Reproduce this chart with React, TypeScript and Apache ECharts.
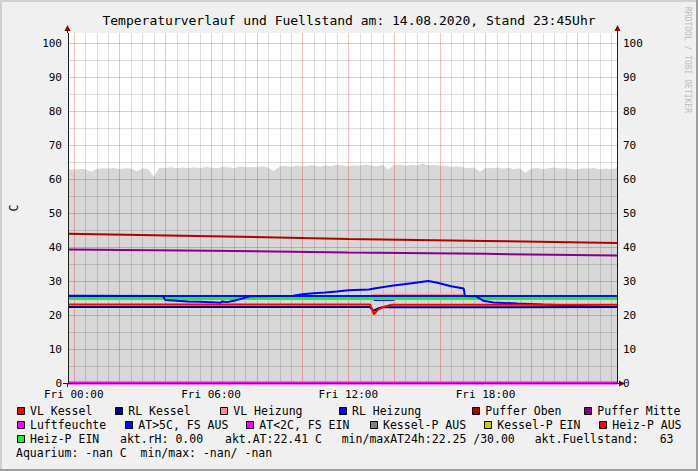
import React, { useEffect, useRef } from 'react';
import * as echarts from 'echarts';

// ---------- data ----------
const TITLE = 'Temperaturverlauf und Fuellstand am: 14.08.2020, Stand 23:45Uhr';
const Y_AXIS_NAME = 'C';
const DAY_NAME = 'Fri';
const X_MIN = -0.25;
const X_MAX = 23.75;
const Y_MIN = 0;
const Y_MAX = 103;
const Y_LABELS = [0, 10, 20, 30, 40, 50, 60, 70, 80, 90, 100];
const Y_MINOR = [5, 15, 25, 35, 45, 55, 65, 75, 85, 95];
const X_LABEL_HOURS = [0, 6, 12, 18];
const X_MAJOR_HOURS = [0, 2, 4, 6, 8, 10, 12, 14, 16, 18, 20, 22];
const X_MINOR_HOURS = [
  0.5, 1, 1.5, 2.5, 3, 3.5, 4.5, 5, 5.5, 6.5, 7, 7.5, 8.5, 9, 9.5, 10.5, 11, 11.5,
  12.5, 13, 13.5, 14.5, 15, 15.5, 16.5, 17, 17.5, 18.5, 19, 19.5, 20.5, 21, 21.5,
  22.5, 23, 23.5,
];

// Fuellstand, one value every 15 minutes starting at -0.25 h
const FUELL_START = -0.25;
const FUELL_STEP = 0.25;
const FUELLSTAND = [
  62.9, 62.8, 63.0, 62.9, 62.2, 63.0, 63.2, 63.1,
  63.3, 63.0, 63.2, 63.1, 62.3, 63.2, 63.0, 60.8,
  63.4, 63.3, 63.5, 63.2, 63.4, 63.3, 63.5, 63.2,
  63.6, 63.4, 63.3, 63.6, 63.5, 63.2, 63.7, 63.5,
  63.6, 63.5, 63.8, 63.4, 62.4, 63.7, 63.9, 63.6,
  64.0, 63.7, 63.9, 64.1, 63.6, 64.0, 63.8, 64.2,
  64.0, 63.8, 64.1, 63.9, 64.3, 64.0, 63.7, 64.2,
  62.8, 64.1, 64.3, 63.9, 64.2, 64.0, 64.6, 64.1,
  64.2, 63.9, 64.0, 63.6, 63.8, 63.5, 63.3, 63.4,
  62.2, 63.3, 63.2, 63.4, 63.1, 63.3, 63.0, 63.2,
  61.9, 63.1, 63.3, 63.0, 63.2, 63.4, 63.1, 63.2,
  63.0, 62.8, 63.2, 63.1, 63.3, 62.9, 63.1, 63.0,
  63.2,
];

// [hour, value]
const PUFFER_OBEN = [[-0.25, 43.9], [6, 43.2], [12, 42.4], [18, 41.8], [23.75, 41.2]];
const PUFFER_MITTE = [[-0.25, 39.3], [6, 38.9], [12, 38.4], [18, 38.0], [23.75, 37.5]];
const VL_HEIZUNG = [[-0.25, 25.6], [13.0, 25.6], [13.1, 25.95], [17.1, 25.95], [17.2, 25.6], [23.75, 25.6]];
const AT_FS_AUS = [[-0.25, 25.6], [23.75, 25.6]];
const RL_HEIZUNG = [[-0.25, 25.6], [13.05, 25.6], [13.15, 24.4], [14.0, 24.5], [14.1, 25.6], [23.75, 25.6]];
const HEIZ_P_EIN = [[-0.25, 24.85], [23.75, 24.85]];
const AUSSENTEMP = [
  [-0.25, 25.7], [3.9, 25.6], [4.0, 24.4], [4.5, 24.2], [5.0, 24.0], [5.5, 23.9], [6.0, 23.8],
  [6.4, 23.6], [6.5, 24.0], [6.7, 23.8], [7.0, 24.2], [7.4, 24.9], [7.7, 25.5], [9.6, 25.7],
  [10.0, 26.1], [10.5, 26.4], [11.0, 26.6], [11.5, 26.9], [12.0, 27.3], [12.9, 27.5], [13.2, 27.9],
  [13.9, 28.6], [14.7, 29.3], [15.5, 30.0], [15.9, 29.5], [16.5, 28.5], [17.05, 27.8], [17.1, 25.6],
  [17.6, 25.5], [17.9, 24.2], [18.35, 23.7], [19.4, 23.4], [20.5, 23.1], [21.4, 22.9], [22.5, 22.6],
  [23.75, 22.4],
];
const VL_KESSEL = [
  [-0.25, 23.1], [12.95, 23.1], [13.05, 21.6], [13.12, 20.2], [13.3, 21.6], [13.6, 22.5], [13.9, 23.0],
  [23.75, 23.0],
];
const RL_KESSEL = [
  [-0.25, 22.35], [12.95, 22.35], [13.1, 21.2], [13.3, 21.9], [13.5, 22.3], [23.75, 22.35],
];
const LUFTFEUCHTE = [[-0.25, 0], [23.75, 0]];

const LEGEND_ROW1 = ['VL Kessel', 'RL Kessel', 'VL Heizung', 'RL Heizung', 'Puffer Oben', 'Puffer Mitte'];
const LEGEND_ROW2 = ['Luftfeuchte', 'AT>5C, FS AUS', 'AT<2C, FS EIN', 'Kessel-P AUS', 'Kessel-P EIN', 'Heiz-P AUS'];
const LEGEND_ROW3 = ['Heiz-P EIN'];
const AKT_RH = '0.00';
const AKT_AT = '22.41';
const MIN_AT = '22.25';
const MAX_AT = '30.00';
const AKT_FUELL = '63';
const AQUARIUM = '-nan';
const AQUARIUM_MIN = '-nan';
const AQUARIUM_MAX = '-nan';

// ---------- styles ----------
const MONO = '"DejaVu Sans Mono", monospace';
const COLORS: Record<string, string> = {
  'VL Kessel': '#ff0000',
  'RL Kessel': '#000080',
  'VL Heizung': '#ff8c94',
  'RL Heizung': '#0000ff',
  'Puffer Oben': '#b00000',
  'Puffer Mitte': '#880088',
  'Luftfeuchte': '#ff00ff',
  'AT>5C, FS AUS': '#0010ff',
  'AT<2C, FS EIN': '#ff00ff',
  'Kessel-P AUS': '#808080',
  'Kessel-P EIN': '#cccc00',
  'Heiz-P AUS': '#ff0000',
  'Heiz-P EIN': '#22ee22',
  'Aussentemperatur': '#0000ff',
};
const ROW1_TEXT_X = [30, 128.3, 233.3, 352, 485.3, 597.3];
const ROW2_TEXT_X = [30, 138.3, 259.3, 383, 497.3, 612.3];
const ROW_Y = [411, 425, 439, 453];

const GRID_MINOR = 'rgba(128,128,128,0.28)';
const GRID_MAJOR = 'rgba(255,0,0,0.26)';
const AXIS_COLOR = '#202020';
const ARROW_COLOR = '#7f0000';

function lineSeries(name: string, data: number[][], color: string, width: number, z = 3, clip = true) {
  return {
    name,
    type: 'line',
    data,
    xAxisIndex: 0,
    yAxisIndex: 0,
    symbol: 'none',
    silent: true,
    clip,
    z,
    lineStyle: { color, width },
  };
}

// grid / axis lines through the axes' scales, snapped to whole pixels
function ruleSeries(name: string, values: number[], vertical: boolean, color: string, z: number) {
  return {
    name,
    type: 'custom',
    xAxisIndex: 0,
    yAxisIndex: 0,
    silent: true,
    clip: false,
    z,
    data: values.map((v) => (vertical ? [v, Y_MIN] : [X_MIN, v])),
    renderItem: (params: any, api: any) => {
      if (vertical) {
        const v = api.value(0);
        const a = api.coord([v, Y_MIN]);
        const b = api.coord([v, Y_MAX]);
        const x = Math.round(a[0]) + 0.5;
        return {
          type: 'line',
          shape: { x1: x, y1: Math.round(b[1]), x2: x, y2: Math.round(a[1]) },
          style: { stroke: color, lineWidth: 1 },
        };
      }
      const v = api.value(1);
      const a = api.coord([X_MIN, v]);
      const b = api.coord([X_MAX, v]);
      const y = Math.round(a[1]) + 0.5;
      return {
        type: 'line',
        shape: { x1: Math.round(a[0]), y1: y, x2: Math.round(b[0]), y2: y },
        style: { stroke: color, lineWidth: 1 },
      };
    },
  };
}

function legendItems() {
  const els: any[] = [];
  const add = (names: string[], xs: number[], y: number) => {
    names.forEach((n, i) => {
      const tx = xs[i];
      els.push({
        type: 'rect',
        shape: { x: Math.round(tx - 13.5) + 0.5, y: y - 3.5, width: 7, height: 7 },
        style: { fill: COLORS[n], stroke: '#000', lineWidth: 1 },
      });
      els.push({
        type: 'text',
        x: tx,
        y,
        style: { text: n, font: `11.5px ${MONO}`, fill: '#000', align: 'left', verticalAlign: 'middle' },
      });
    });
  };
  add(LEGEND_ROW1, ROW1_TEXT_X, ROW_Y[0]);
  add(LEGEND_ROW2, ROW2_TEXT_X, ROW_Y[1]);
  add(LEGEND_ROW3, [30], ROW_Y[2]);
  const txt = (text: string, x: number, y: number) => ({
    type: 'text',
    x,
    y,
    style: { text, font: `11.5px ${MONO}`, fill: '#000', align: 'left', verticalAlign: 'middle' },
  });
  els.push(txt(`akt.rH: ${AKT_RH}`, 120, ROW_Y[2]));
  els.push(txt(`akt.AT:${AKT_AT} C`, 225, ROW_Y[2]));
  els.push(txt(`min/maxAT24h:${MIN_AT} /${MAX_AT}`, 341.7, ROW_Y[2]));
  els.push(txt('akt.Fuellstand:', 534.7, ROW_Y[2]));
  els.push(txt(AKT_FUELL, 659.7, ROW_Y[2]));
  els.push(txt(`Aquarium: ${AQUARIUM} C`, 16, ROW_Y[3]));
  els.push(txt(`min/max: ${AQUARIUM_MIN}/ ${AQUARIUM_MAX}`, 140.6, ROW_Y[3]));
  return els;
}

export default function App() {
  const ref = useRef<HTMLDivElement>(null);
  useEffect(() => {
    if (!ref.current) return;
    const chart = echarts.init(ref.current, undefined, { renderer: 'svg', width: 698, height: 471 });
    const fuellData = FUELLSTAND.map((v, i) => [FUELL_START + i * FUELL_STEP, v]);
    const labelStyle = { fontFamily: MONO, fontSize: 11, color: '#000' };
    const option: any = {
      animation: false,
      backgroundColor: '#f0f0f0',
      title: {
        text: TITLE,
        left: 'center',
        top: 9,
        textStyle: { fontFamily: MONO, fontSize: 13, fontWeight: 'normal', color: '#000' },
      },
      grid: {
        left: 67,
        top: 33,
        width: 550,
        height: 350,
        show: true,
        backgroundColor: '#ffffff',
        borderWidth: 0,
      },
      xAxis: [
        {
          type: 'value', min: X_MIN, max: X_MAX, position: 'bottom',
          axisLine: { show: false, onZero: false },
          axisTick: { show: false },
          axisLabel: {
            ...labelStyle,
            customValues: X_LABEL_HOURS,
            margin: 6,
            formatter: (v: number) => `${DAY_NAME} ${String(v).padStart(2, '0')}:00`,
          },
          splitLine: { show: false },
        },
      ],
      yAxis: [
        {
          type: 'value', min: Y_MIN, max: Y_MAX, position: 'left',
          name: Y_AXIS_NAME,
          nameLocation: 'middle',
          nameRotate: 90,
          nameGap: 48,
          nameTextStyle: { fontFamily: MONO, fontSize: 11.5, color: '#000' },
          axisLine: { show: false, onZero: false },
          axisTick: { show: false },
          axisLabel: { ...labelStyle, customValues: Y_LABELS, margin: 6 },
          splitLine: { show: false },
        },
        {
          type: 'value', min: Y_MIN, max: Y_MAX, position: 'right',
          axisLine: { show: false, onZero: false },
          axisTick: { show: false },
          axisLabel: { ...labelStyle, customValues: Y_LABELS, margin: 6 },
          splitLine: { show: false },
        },
      ],
      series: [
        ruleSeries('gridMinorX', X_MINOR_HOURS, true, GRID_MINOR, 1),
        ruleSeries('gridMinorY', Y_MINOR, false, GRID_MINOR, 1),
        ruleSeries('gridMajorX', X_MAJOR_HOURS, true, GRID_MAJOR, 1),
        ruleSeries('gridMajorY', Y_LABELS.filter((v) => v > Y_MIN), false, GRID_MAJOR, 1),
        {
          name: 'Fuellstand',
          type: 'line',
          data: fuellData,
          xAxisIndex: 0,
          yAxisIndex: 0,
          symbol: 'none',
          silent: true,
          z: 2,
          lineStyle: { width: 0 },
          areaStyle: { color: 'rgba(0,0,0,0.155)', opacity: 1 },
        },
        lineSeries('Puffer Oben', PUFFER_OBEN, COLORS['Puffer Oben'], 2),
        lineSeries('Puffer Mitte', PUFFER_MITTE, COLORS['Puffer Mitte'], 2),
        lineSeries('VL Heizung', VL_HEIZUNG, COLORS['VL Heizung'], 2),
        lineSeries('RL Heizung', RL_HEIZUNG, COLORS['RL Heizung'], 2),
        lineSeries('AT>5C, FS AUS', AT_FS_AUS, COLORS['AT>5C, FS AUS'], 2),
        lineSeries('Heiz-P EIN', HEIZ_P_EIN, COLORS['Heiz-P EIN'], 3),
        lineSeries('Aussentemperatur', AUSSENTEMP, COLORS['Aussentemperatur'], 2),
        lineSeries('RL Kessel', RL_KESSEL, COLORS['RL Kessel'], 2),
        lineSeries('VL Kessel', VL_KESSEL, COLORS['VL Kessel'], 2),
        lineSeries('Luftfeuchte', LUFTFEUCHTE, COLORS['Luftfeuchte'], 3, 3, false),
        ruleSeries('axisX', [Y_MIN], false, AXIS_COLOR, 5),
        ruleSeries('axisY', [X_MIN, X_MAX], true, AXIS_COLOR, 5),
      ],
      graphic: [
        // frame shading
        { type: 'rect', shape: { x: 0, y: 0, width: 698, height: 2 }, style: { fill: '#cfcfcf' } },
        { type: 'rect', shape: { x: 0, y: 0, width: 2, height: 471 }, style: { fill: '#cfcfcf' } },
        { type: 'rect', shape: { x: 696, y: 0, width: 2, height: 471 }, style: { fill: '#9e9e9e' } },
        { type: 'rect', shape: { x: 0, y: 469, width: 698, height: 2 }, style: { fill: '#9e9e9e' } },
        // axis extensions and arrows
        { type: 'line', shape: { x1: 67.5, y1: 33, x2: 67.5, y2: 29 }, style: { stroke: AXIS_COLOR, lineWidth: 1 } },
        { type: 'line', shape: { x1: 617.5, y1: 33, x2: 617.5, y2: 29 }, style: { stroke: AXIS_COLOR, lineWidth: 1 } },
        { type: 'line', shape: { x1: 67.5, y1: 383, x2: 67.5, y2: 387 }, style: { stroke: AXIS_COLOR, lineWidth: 1 } },
        { type: 'line', shape: { x1: 617, y1: 383.5, x2: 621, y2: 383.5 }, style: { stroke: AXIS_COLOR, lineWidth: 1 } },
        { type: 'line', shape: { x1: 63, y1: 383.5, x2: 67, y2: 383.5 }, style: { stroke: AXIS_COLOR, lineWidth: 1 } },
        { type: 'polygon', shape: { points: [[67.5, 25], [64.5, 31], [70.5, 31]] }, style: { fill: ARROW_COLOR } },
        { type: 'polygon', shape: { points: [[617.5, 25], [614.5, 31], [620.5, 31]] }, style: { fill: ARROW_COLOR } },
        { type: 'polygon', shape: { points: [[625, 383.5], [619, 380.5], [619, 386.5]] }, style: { fill: ARROW_COLOR } },
        // watermark
        {
          type: 'text', x: 687, y: 7, rotation: -Math.PI / 2,
          style: { text: 'RRDTOOL / TOBI OETIKER', font: `8px ${MONO}`, fill: '#bdbdbd', align: 'left', verticalAlign: 'middle' },
        },
        ...legendItems(),
      ],
    };
    chart.setOption(option);
    return () => chart.dispose();
  }, []);
  return <div ref={ref} style={{ position: 'absolute', left: 0, top: 0, width: 698, height: 471 }} />;
}
